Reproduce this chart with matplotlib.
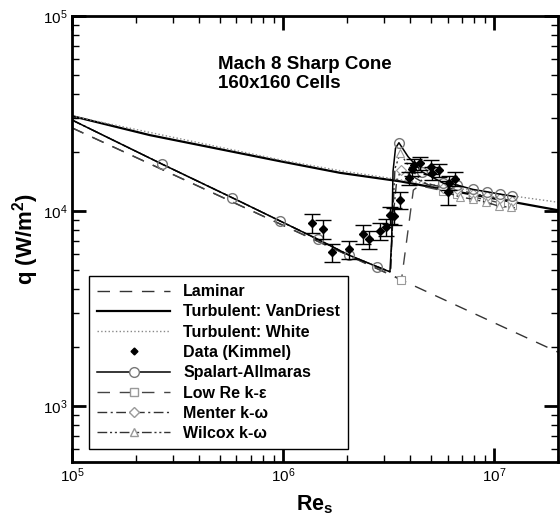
import matplotlib
matplotlib.use("Agg")
import matplotlib.pyplot as plt
from matplotlib.lines import Line2D
from matplotlib.ticker import LogLocator, NullFormatter

plt.rcParams['font.family'] = ['Liberation Sans', 'DejaVu Sans']
plt.rcParams['mathtext.fontset'] = 'custom'
plt.rcParams['mathtext.rm'] = 'Liberation Sans'
plt.rcParams['mathtext.bf'] = 'Liberation Sans:bold'

# laminar and turbulent correlations
re_lam = [1.0e5, 1.0e6, 1.0e7, 2.0e7]
q_lam = [26700, 8440, 2670, 1890]

re_vd = [1.0e5, 2.34e5, 9.68e5, 1.86e6, 3.58e6, 2.0e7]
q_vd = [30700, 24500, 18000, 15700, 14200, 10100]

re_white = [1.0e5, 9.68e5, 1.86e6, 6.0e6, 2.0e7]
q_white = [30700, 18300, 16100, 13300, 11100]

# Kimmel data with error bars
data_re = [1.368e6, 1.535e6, 1.70e6, 2.04e6, 2.38e6, 2.55e6, 2.88e6, 3.07e6,
           3.21e6, 3.36e6, 3.56e6, 3.93e6, 4.07e6, 4.15e6, 4.43e6, 5.01e6,
           5.08e6, 5.45e6, 6.07e6, 6.03e6, 6.53e6]
data_q = [8710, 8060, 6140, 6360, 7620, 7160, 7890, 8300,
          9530, 9420, 11400, 14700, 16400, 17200, 17600, 16900,
          15600, 16200, 13960, 12500, 14650]
data_err = [0.11, 0.11, 0.11, 0.11, 0.11, 0.11, 0.10, 0.10,
            0.10, 0.10, 0.10, 0.08, 0.08, 0.08, 0.08, 0.08,
            0.08, 0.08, 0.08, 0.14, 0.08]

# Spalart-Allmaras
re_sa = [1.0e5, 2.67e5, 5.74e5, 9.67e5, 1.46e6, 2.05e6, 2.79e6, 3.20e6, 3.26e6,
         3.31e6, 3.40e6, 3.53e6, 3.90e6, 4.54e6, 5.73e6, 6.65e6, 7.93e6, 9.23e6,
         1.067e7, 1.213e7, 1.25e7]
q_sa = [29300, 17400, 11700, 8890, 7160, 5940, 5180, 4880, 7000,
        16000, 21000, 22400, 19000, 15900, 13900, 13600, 12900, 12560,
        12200, 11940, 11850]
mark_sa = [1, 2, 3, 4, 5, 6, 11, 13, 14, 15, 16, 17, 18, 19]

# Low Re k-epsilon
re_lr = [1.0e5, 1.0e6, 3.63e6, 4.13e6, 4.40e6, 5.73e6, 6.65e6, 7.93e6, 9.23e6,
         1.067e7, 1.213e7, 1.25e7]
q_lr = [26700, 8440, 4450, 12800, 13500, 12700, 12300, 11800, 11400,
        11000, 10700, 10650]
mark_lr = [2, 5, 6, 7, 8, 9, 10]

# Menter k-omega
re_me = [1.0e5, 2.67e5, 5.74e5, 9.67e5, 1.46e6, 2.05e6, 2.79e6, 3.22e6, 3.30e6,
         3.45e6, 3.62e6, 4.0e6, 4.6e6, 5.73e6, 6.65e6, 7.93e6, 9.23e6, 1.067e7,
         1.213e7, 1.25e7]
q_me = [29300, 17400, 11700, 8890, 7160, 5940, 5180, 4880, 9000,
        14500, 16200, 15300, 14000, 13200, 12900, 12300, 11950, 11600,
        11300, 11250]
mark_me = [10, 13, 14, 15, 16, 17, 18]

# Wilcox k-omega
re_wi = [1.0e5, 2.67e5, 5.74e5, 9.67e5, 1.46e6, 2.05e6, 2.79e6, 3.22e6, 3.29e6,
         3.38e6, 3.58e6, 4.0e6, 4.6e6, 5.73e6, 6.9e6, 7.93e6, 9.16e6, 1.047e7,
         1.2e7, 1.25e7]
q_wi = [29300, 17400, 11700, 8890, 7160, 5940, 5180, 4880, 9000,
        16500, 19800, 16500, 14000, 12600, 11800, 11500, 11100, 10600,
        10450, 10400]
mark_wi = [10, 14, 15, 16, 17, 18]

fig = plt.figure(figsize=(5.6, 5.18), dpi=100)
ax = fig.add_axes([0.1286, 0.1081, 0.8679, 0.861])

gray = '#777777'
ax.plot(re_lam, q_lam, color='#333333', lw=1.0, dashes=(9, 7))
ax.plot(re_vd, q_vd, color='black', lw=1.6)
ax.plot(re_white, q_white, color='#888888', lw=1.0, ls=':')
ax.plot(re_lr, q_lr, color='#444444', lw=1.0, dashes=(9, 7),
        marker='s', ms=6, mfc='white', mec='#999999', mew=0.8, markevery=mark_lr)
ax.plot(re_me, q_me, color='#333333', lw=1.0, dashes=(7, 2.5, 1.5, 2.5),
        marker='D', ms=5, mfc='white', mec='#999999', mew=0.8, markevery=mark_me)
ax.plot(re_wi, q_wi, color='#333333', lw=1.0, dashes=(7, 2, 1.5, 2, 1.5, 2),
        marker='^', ms=6, mfc='white', mec='#999999', mew=0.8, markevery=mark_wi)
ax.plot(re_sa, q_sa, color='black', lw=1.1,
        marker='o', ms=7, mfc='none', mec=gray, mew=1.0, markevery=mark_sa)

err_lo = [q * e for q, e in zip(data_q, data_err)]
err_hi = [q * e for q, e in zip(data_q, data_err)]
ax.errorbar(data_re, data_q, yerr=[err_lo, err_hi], fmt='D', color='black',
            ms=4.5, elinewidth=1.0, capsize=6, capthick=1.0)

ax.set_xscale('log')
ax.set_yscale('log')
ax.set_xlim(1e5, 2e7)
ax.set_ylim(517, 1e5)

for axis in (ax.xaxis, ax.yaxis):
    axis.set_major_locator(LogLocator(base=10, numticks=10))
    axis.set_minor_locator(LogLocator(base=10, subs=range(2, 10), numticks=10))
    axis.set_minor_formatter(NullFormatter())
ax.tick_params(which='both', direction='in', top=True, right=True, labelsize=11)
ax.tick_params(which='major', length=10, width=2)
ax.tick_params(which='minor', length=5, width=1)
for sp in ax.spines.values():
    sp.set_linewidth(2)

ax.set_xlabel(r'Re$_\mathbf{s}$', fontsize=15.5, fontweight='bold', labelpad=6)
ax.set_ylabel(r'q (W/m$^\mathbf{2}$)', fontsize=16, fontweight='bold', labelpad=1)

ax.text(0.30, 0.91, 'Mach 8 Sharp Cone\n160x160 Cells', transform=ax.transAxes,
        fontsize=13.5, fontweight='bold', va='top', ha='left', linespacing=1.15)

handles = [
    Line2D([], [], color='#333333', lw=1.0, dashes=(9, 7)),
    Line2D([], [], color='black', lw=1.6),
    Line2D([], [], color='#888888', lw=1.0, ls=':'),
    Line2D([], [], color='black', ls='none', marker='D', ms=3.5),
    Line2D([], [], color='black', lw=1.1, marker='o', ms=7, mfc='white', mec=gray),
    Line2D([], [], color='#444444', lw=1.0, dashes=(9, 7), marker='s', ms=6,
           mfc='white', mec='#999999'),
    Line2D([], [], color='#333333', lw=1.0, dashes=(7, 2.5, 1.5, 2.5), marker='D',
           ms=5, mfc='white', mec='#999999'),
    Line2D([], [], color='#333333', lw=1.0, dashes=(7, 2, 1.5, 2, 1.5, 2), marker='^',
           ms=6, mfc='white', mec='#999999'),
]
labels = ['Laminar', 'Turbulent: VanDriest', 'Turbulent: White', 'Data (Kimmel)',
          'Spalart-Allmaras', 'Low Re k-ε', 'Menter k-ω', 'Wilcox k-ω']
leg = ax.legend(handles, labels, loc='lower left', bbox_to_anchor=(0.035, 0.029),
                borderaxespad=0, fancybox=False, framealpha=1, edgecolor='black',
                handlelength=4.6, handletextpad=0.8, labelspacing=0.33,
                borderpad=0.5, prop={'weight': 'bold', 'size': 11.5})
leg.get_frame().set_linewidth(1.0)

fig.savefig('out.png', dpi=100)
